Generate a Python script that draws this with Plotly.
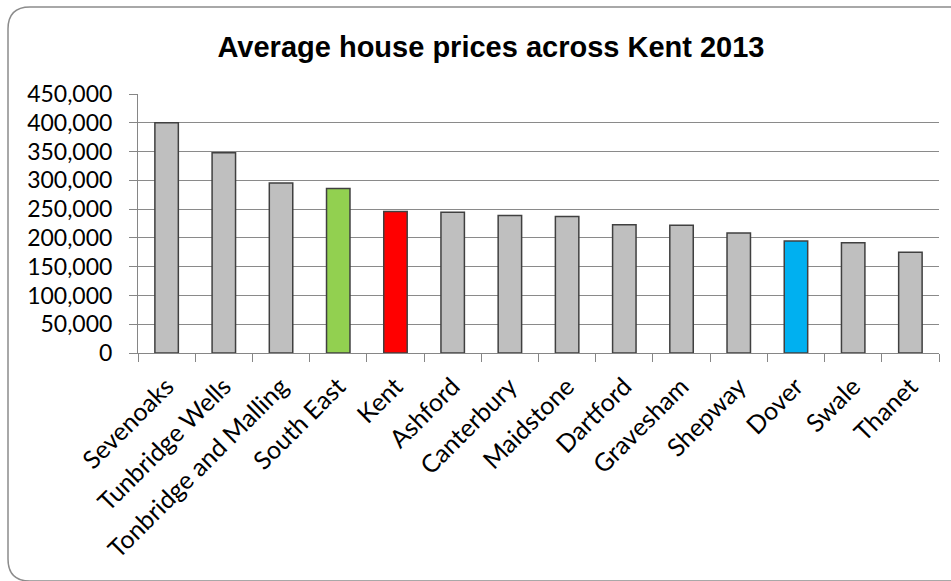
import plotly.graph_objects as go

categories = ["Sevenoaks", "Tunbridge Wells", "Tonbridge and Malling", "South East", "Kent",
              "Ashford", "Canterbury", "Maidstone", "Dartford", "Gravesham", "Shepway",
              "Dover", "Swale", "Thanet"]
prices = [400000, 348000, 295500, 286000, 246000, 244500, 239000, 237000, 223000, 222000,
          208500, 194500, 191500, 175000]
bar_colors = ["#BFBFBF", "#BFBFBF", "#BFBFBF", "#92D050", "#FF0000", "#BFBFBF", "#BFBFBF",
              "#BFBFBF", "#BFBFBF", "#BFBFBF", "#BFBFBF", "#00B0F0", "#BFBFBF", "#BFBFBF"]
y_ticks = list(range(0, 450001, 50000))

W, H = 951, 581
L, R, T, B = 138, 12, 94, 228
pw, ph = W - L - R, H - T - B

def px(x):
    return (x - L) / pw

def py(y):
    return (H - B - y) / ph

fig = go.Figure(go.Bar(
    x=categories, y=prices, marker=dict(color=bar_colors, line=dict(color="#404040", width=1.5)),
    width=0.41,
))

# rounded border around the chart (right and bottom edges fall outside the frame)
x0, x1, y0, y1, r = 8, 975, 7, 581, 22
path = (f"M {px(x0+r)} {py(y0)} L {px(x1-r)} {py(y0)} Q {px(x1)} {py(y0)} {px(x1)} {py(y0+r)} "
        f"L {px(x1)} {py(y1-r)} Q {px(x1)} {py(y1)} {px(x1-r)} {py(y1)} "
        f"L {px(x0+r)} {py(y1)} Q {px(x0)} {py(y1)} {px(x0)} {py(y1-r)} "
        f"L {px(x0)} {py(y0+r)} Q {px(x0)} {py(y0)} {px(x0+r)} {py(y0)} Z")

fig.update_layout(
    width=W, height=H,
    margin=dict(l=L, r=R, t=T, b=B),
    paper_bgcolor="white", plot_bgcolor="white",
    showlegend=False,
    title=dict(text="<b>Average house prices across Kent 2013</b>",
               x=491 / W, xanchor="center", y=1 - 47 / H, yanchor="middle",
               font=dict(family="Liberation Sans, Arial", size=29, color="black")),
    font=dict(family="Lato, Calibri, sans-serif", color="black"),
    shapes=[dict(type="path", path=path, xref="paper", yref="paper",
                 line=dict(color="#8C8C8C", width=1.5), layer="below")],
    xaxis=dict(tickangle=-45, tickfont=dict(size=25), showline=True, linecolor="#868686",
               ticks="outside", tickson="boundaries", ticklen=8, tickcolor="#868686",
               ticklabelstandoff=8,
               showgrid=False, range=[-0.5, len(categories) - 0.5], automargin=False),
    yaxis=dict(range=[0, 450000], tickvals=y_ticks, tickformat=",d", tickfont=dict(size=23),
               showline=True, linecolor="#868686", ticks="outside", ticklen=8, tickcolor="#868686",
               ticklabelstandoff=12, automargin=False,
               showgrid=True, gridcolor="#8A8A8A", gridwidth=1.2, zeroline=False),
)

fig.write_html("out.html", config={"displayModeBar": False},
               post_script="document.body.style.margin='0px';")
